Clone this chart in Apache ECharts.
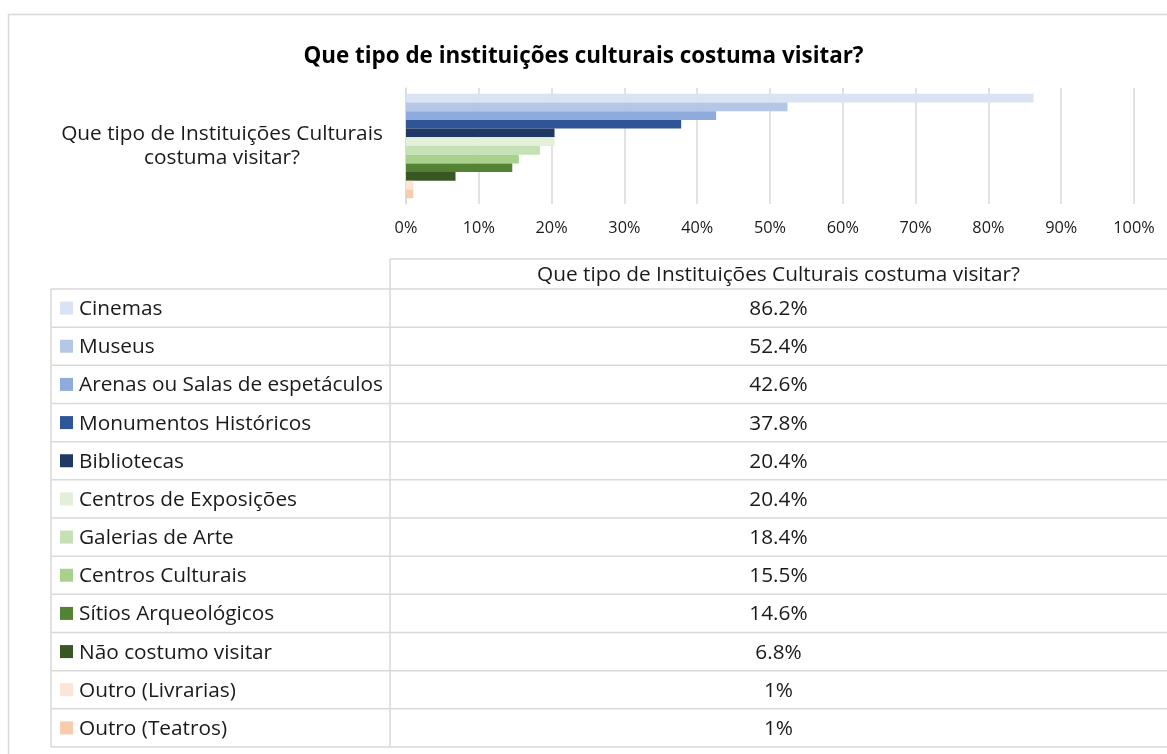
<!DOCTYPE html>
<html>
<head>
<meta charset="utf-8">
<script src="https://cdn.jsdelivr.net/npm/echarts@6/dist/echarts.min.js"></script>
<style>
  html, body { margin: 0; padding: 0; background: #ffffff; }
  #chart { width: 1167px; height: 754px; }
</style>
</head>
<body>
<div id="chart"></div>
<script>
// Survey answers, one series per cultural institution type
const categoryName = 'Que tipo de Instituições Culturais costuma visitar?';
const seriesNames = [
  'Cinemas', 'Museus', 'Arenas ou Salas de espetáculos', 'Monumentos Históricos',
  'Bibliotecas', 'Centros de Exposições', 'Galerias de Arte', 'Centros Culturais',
  'Sítios Arqueológicos', 'Não costumo visitar', 'Outro (Livrarias)', 'Outro (Teatros)'
];
const seriesValues = [86.2, 52.4, 42.6, 37.8, 20.4, 20.4, 18.4, 15.5, 14.6, 6.8, 1, 1];
const seriesColors = [
  '#DAE3F3', '#B4C7E7', '#8FAADC', '#2F5597', '#203864',
  '#E2F0D9', '#C5E0B4', '#A9D18E', '#548235', '#385723',
  '#FBE5D6', '#F8CBAD'
];
const xTicks = [0, 10, 20, 30, 40, 50, 60, 70, 80, 90, 100];

const FONT = '"Open Sans", Lato, sans-serif';
const TEXT = '#1a1a1a';
const LINE = '#D9D9D9';

// Layout of the data table under the plot
const table = {
  left: 51, split: 390, right: 1167,
  headTop: 259, headBottom: 289, bottom: 747,
  keyX: 60, keySize: 13, textX: 79
};
const rowH = (table.bottom - table.headBottom) / seriesNames.length;
const BODY = '20.8px ' + FONT;

function buildTable() {
  const els = [];
  const line = (x1, y1, x2, y2) => els.push({
    type: 'line', silent: true,
    shape: { x1, y1, x2, y2 },
    style: { stroke: LINE, lineWidth: 1.5 }
  });
  // header cell
  line(table.split, table.headTop, table.right, table.headTop);
  line(table.split, table.headTop, table.split, table.bottom);
  els.push({
    type: 'text', silent: true,
    style: {
      x: (table.split + table.right) / 2, y: (table.headTop + table.headBottom) / 2 + 1,
      text: categoryName, fill: TEXT, font: BODY,
      align: 'center', verticalAlign: 'middle'
    }
  });
  line(table.left, table.headBottom, table.right, table.headBottom);
  line(table.left, table.headBottom, table.left, table.bottom);
  seriesNames.forEach((name, i) => {
    const top = table.headBottom + i * rowH;
    const mid = top + rowH / 2;
    line(table.left, top + rowH, table.right, top + rowH);
    els.push({
      type: 'rect', silent: true,
      shape: { x: table.keyX, y: mid - table.keySize / 2, width: table.keySize, height: table.keySize },
      style: { fill: seriesColors[i] }
    });
    els.push({
      type: 'text', silent: true,
      style: {
        x: table.textX, y: mid + 1, text: name, fill: TEXT,
        font: BODY, align: 'left', verticalAlign: 'middle'
      }
    });
    els.push({
      type: 'text', silent: true,
      style: {
        x: (table.split + table.right) / 2, y: mid + 1, text: seriesValues[i] + '%',
        fill: TEXT, font: BODY, align: 'center', verticalAlign: 'middle'
      }
    });
  });
  // outer chart frame
  els.push({
    type: 'rect', silent: true, z: -1,
    shape: { x: 8.5, y: 14.5, width: 1400, height: 800 },
    style: { fill: 'none', stroke: LINE, lineWidth: 1.5 }
  });
  return els;
}

const chart = echarts.init(document.getElementById('chart'), null, { renderer: 'canvas' });
chart.setOption({
  animation: false,
  backgroundColor: '#ffffff',
  textStyle: { fontFamily: FONT },
  title: {
    text: 'Que tipo de instituições culturais costuma visitar?',
    left: 'center', top: 41,
    textStyle: { fontFamily: FONT, fontSize: 22.4, fontWeight: 'bold', color: '#000' }
  },
  grid: { left: 406, right: 33, top: 88, bottom: 550, containLabel: false },
  xAxis: {
    type: 'value', min: 0, max: xTicks[xTicks.length - 1], interval: 10,
    axisLine: { show: false }, axisTick: { show: false },
    axisLabel: { formatter: '{value}%', color: TEXT, fontSize: 16.3, margin: 16, fontFamily: FONT },
    splitLine: { show: true, lineStyle: { color: LINE, width: 1.5 } }
  },
  yAxis: {
    type: 'category', data: [categoryName],
    axisLine: { show: true, lineStyle: { color: LINE, width: 1.5 } },
    axisTick: { show: false },
    axisLabel: {
      formatter: 'Que tipo de Instituições Culturais\ncostuma visitar?',
      align: 'center', margin: 184, lineHeight: 24,
      color: TEXT, fontSize: 20.8, fontFamily: FONT
    }
  },
  series: seriesNames.map((name, i) => ({
    name, type: 'bar',
    data: [seriesValues[i]],
    itemStyle: { color: seriesColors[i] },
    barGap: '0%', barCategoryGap: '10%'
  })),
  graphic: buildTable()
});
</script>
</body>
</html>
